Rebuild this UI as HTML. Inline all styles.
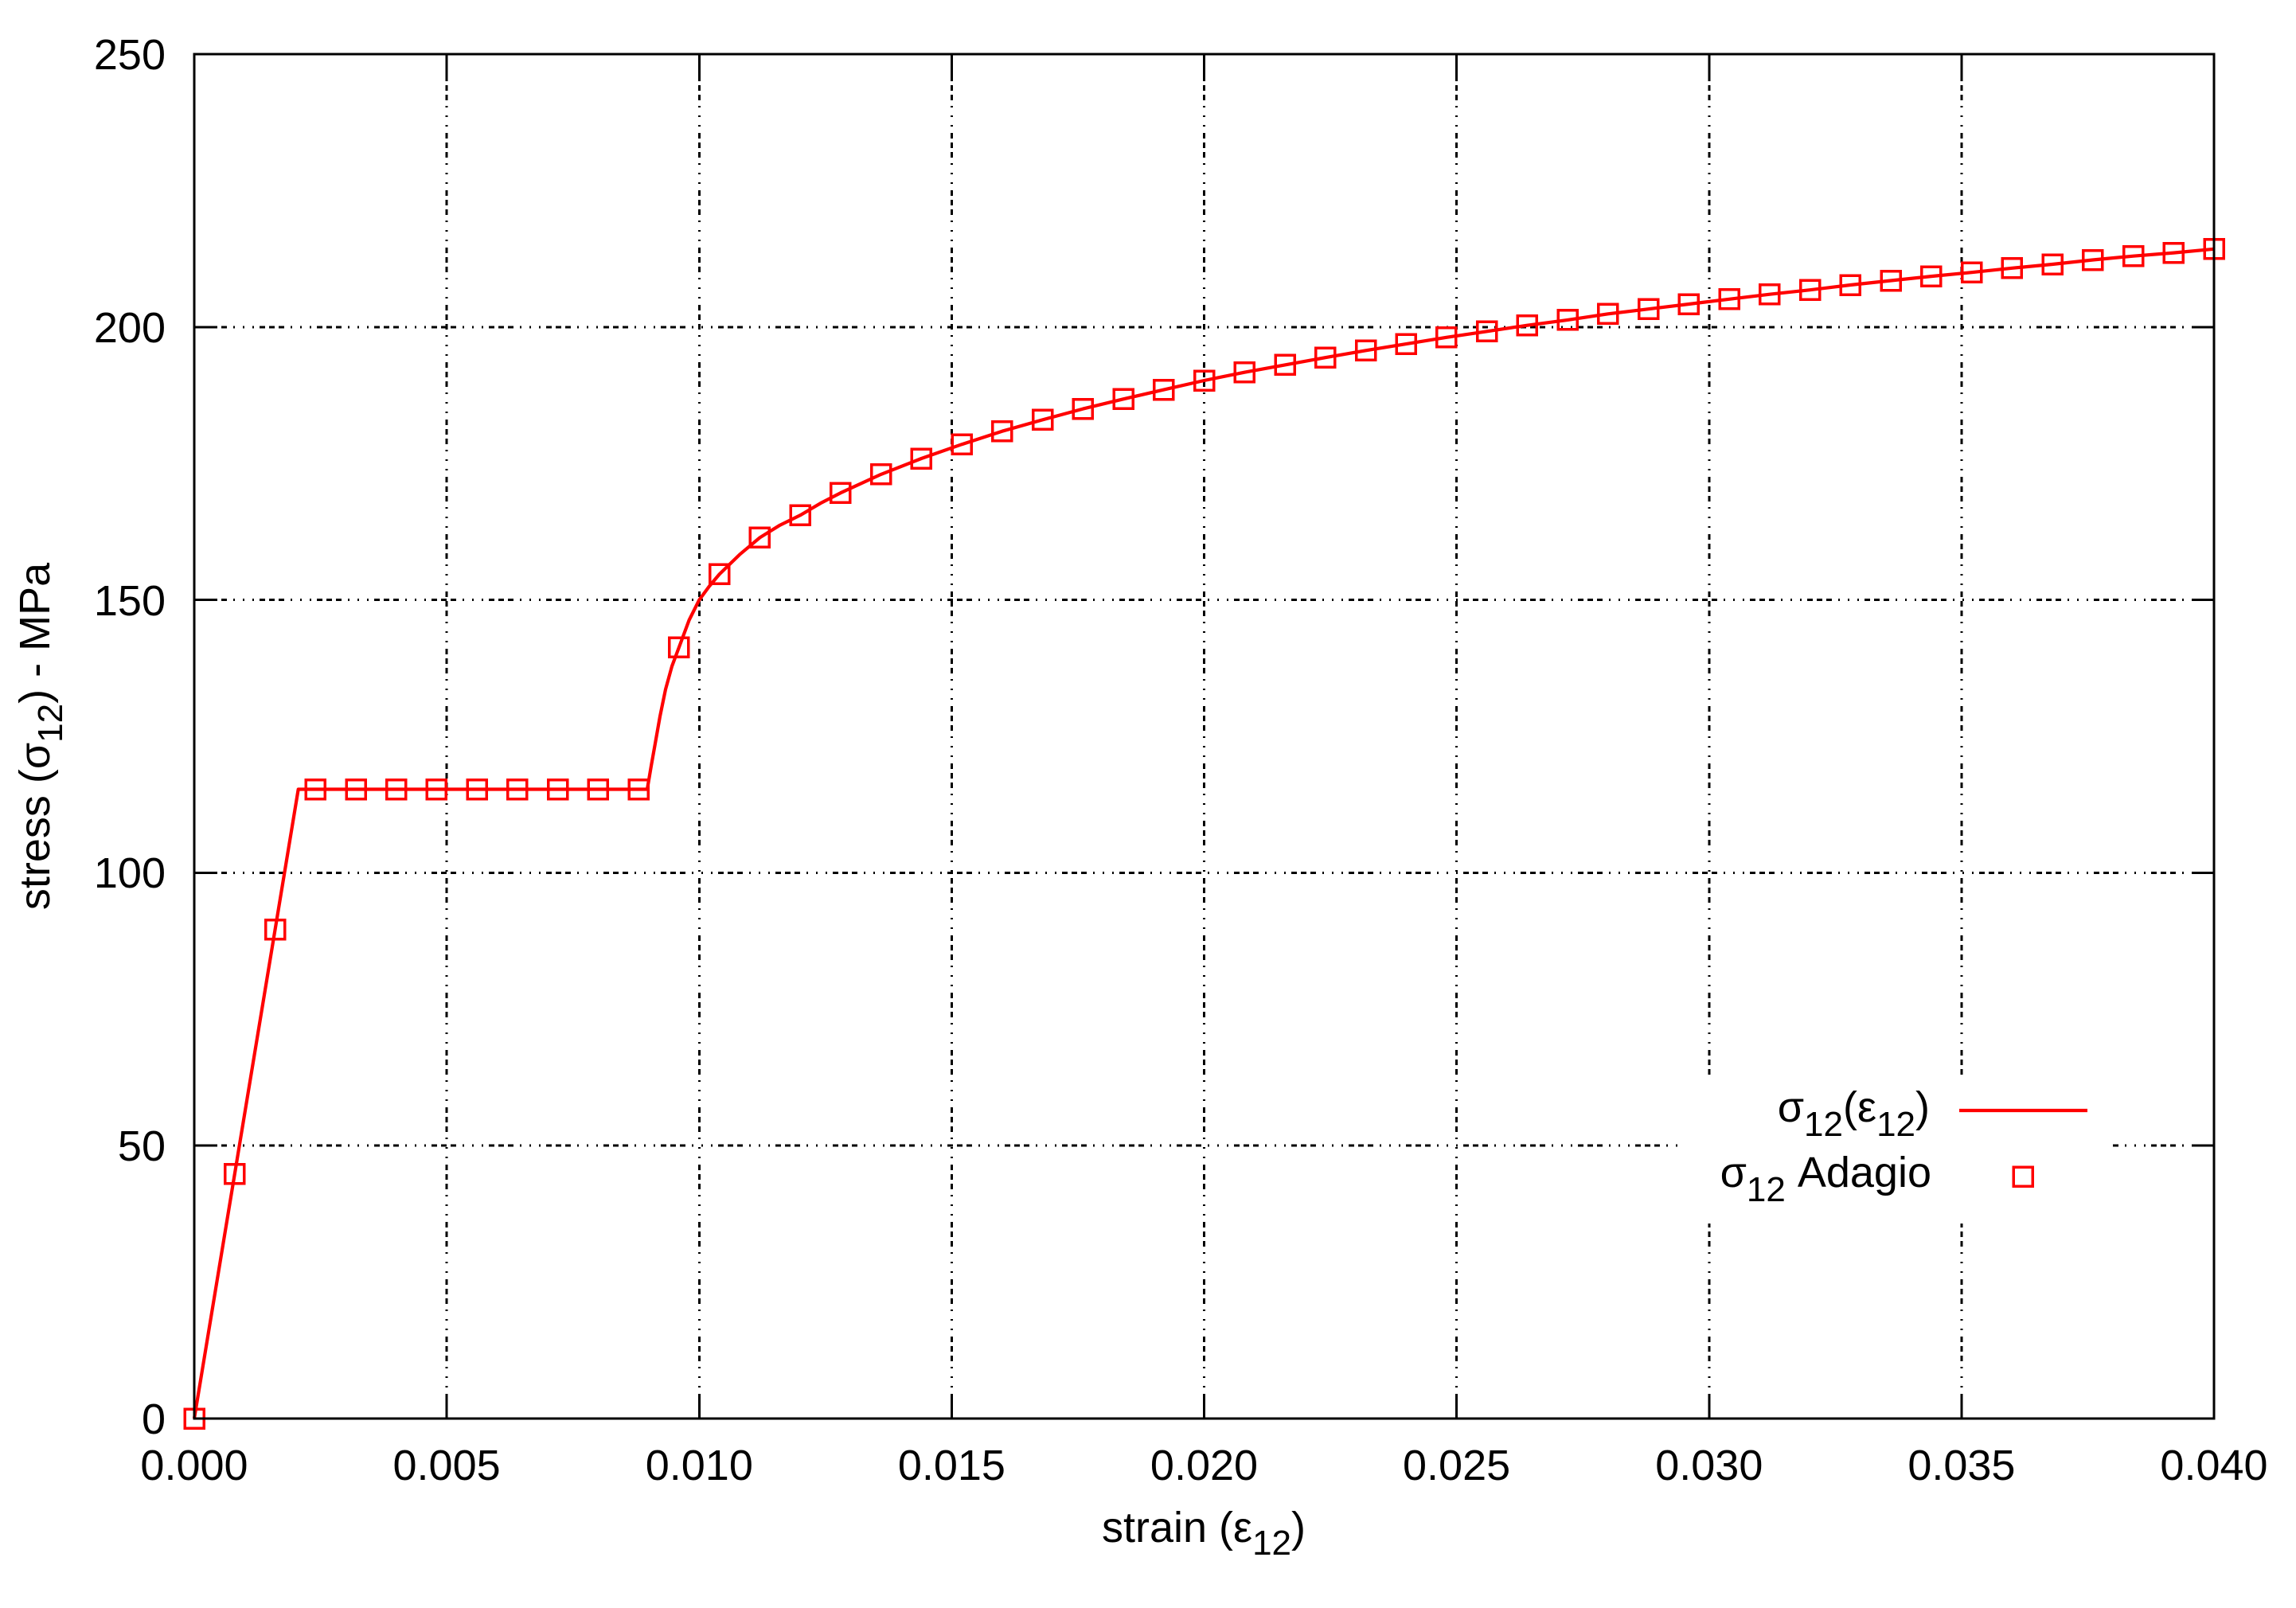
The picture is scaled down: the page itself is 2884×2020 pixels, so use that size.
<!DOCTYPE html>
<html>
<head>
<meta charset="utf-8">
<style>
  html, body { margin: 0; padding: 0; background: #ffffff; }
  svg { display: block; }
  text { font-family: "Liberation Sans", "DejaVu Sans", sans-serif; fill: #000; }
</style>
</head>
<body>
<svg width="2884" height="2020" viewBox="0 0 2884 2020" xmlns="http://www.w3.org/2000/svg">
  <rect x="0" y="0" width="2884" height="2020" fill="#ffffff"/>

  <g stroke="#000" stroke-width="3" fill="none" stroke-dasharray="7 5 7 5 7 8 2 10 2 10 2 7" shape-rendering="crispEdges">
    <line x1="244" y1="1439.2" x2="2781" y2="1439.2" stroke-dashoffset="-10"/>
    <line x1="244" y1="1096.4" x2="2781" y2="1096.4" stroke-dashoffset="-10"/>
    <line x1="244" y1="753.6" x2="2781" y2="753.6" stroke-dashoffset="-10"/>
    <line x1="244" y1="410.8" x2="2781" y2="410.8" stroke-dashoffset="-10"/>
    <line x1="561.1" y1="1782" x2="561.1" y2="68"/>
    <line x1="878.3" y1="1782" x2="878.3" y2="68"/>
    <line x1="1195.4" y1="1782" x2="1195.4" y2="68"/>
    <line x1="1512.5" y1="1782" x2="1512.5" y2="68"/>
    <line x1="1829.6" y1="1782" x2="1829.6" y2="68"/>
    <line x1="2146.8" y1="1782" x2="2146.8" y2="68"/>
    <line x1="2463.9" y1="1782" x2="2463.9" y2="68"/>
  </g>

  <rect x="2115" y="1352" width="538" height="185" fill="#ffffff"/>

  <g stroke="#000" stroke-width="3" shape-rendering="crispEdges">
    <line x1="244" y1="1439.2" x2="272" y2="1439.2"/>
    <line x1="244" y1="1096.4" x2="272" y2="1096.4"/>
    <line x1="244" y1="753.6" x2="272" y2="753.6"/>
    <line x1="244" y1="410.8" x2="272" y2="410.8"/>
    <line x1="2781" y1="1439.2" x2="2753" y2="1439.2"/>
    <line x1="2781" y1="1096.4" x2="2753" y2="1096.4"/>
    <line x1="2781" y1="753.6" x2="2753" y2="753.6"/>
    <line x1="2781" y1="410.8" x2="2753" y2="410.8"/>
    <line x1="561.1" y1="1782" x2="561.1" y2="1755"/>
    <line x1="878.3" y1="1782" x2="878.3" y2="1755"/>
    <line x1="1195.4" y1="1782" x2="1195.4" y2="1755"/>
    <line x1="1512.5" y1="1782" x2="1512.5" y2="1755"/>
    <line x1="1829.6" y1="1782" x2="1829.6" y2="1755"/>
    <line x1="2146.8" y1="1782" x2="2146.8" y2="1755"/>
    <line x1="2463.9" y1="1782" x2="2463.9" y2="1755"/>
    <line x1="561.1" y1="68" x2="561.1" y2="95"/>
    <line x1="878.3" y1="68" x2="878.3" y2="95"/>
    <line x1="1195.4" y1="68" x2="1195.4" y2="95"/>
    <line x1="1512.5" y1="68" x2="1512.5" y2="95"/>
    <line x1="1829.6" y1="68" x2="1829.6" y2="95"/>
    <line x1="2146.8" y1="68" x2="2146.8" y2="95"/>
    <line x1="2463.9" y1="68" x2="2463.9" y2="95"/>
  </g>

  <path fill="none" stroke="#ff0000" stroke-width="4.2" stroke-linejoin="round"
    d="M244,1782 L374.7,991.5 L813,991.5 L818,962 L823,934 L829,900 L836,866 L844,837 L852.9,813.2 L865.6,779 L878.3,753.6 L890.9,736.5 L903.6,721.4 L929,696.7 L954.4,675.4 L979.7,659.7 L1005.1,647.3 L1030.5,632.3 L1055.8,619.2 L1106.6,595.9 L1157.3,576 L1208.1,558.2 L1258.8,541.7 L1309.5,527.4 L1360.3,513.6 L1411,501.3 L1461.8,489.6 L1512.5,478 L1563.2,467.7 L1614,458.4 L1664.7,449.2 L1715.5,440.3 L1766.2,432.1 L1816.9,423.8 L1867.7,416.3 L1918.4,408.7 L1969.2,401.9 L2019.9,394.3 L2070.6,388.2 L2121.4,382 L2172.1,375.8 L2222.9,369.7 L2273.6,364.2 L2324.3,358 L2375.1,352.5 L2425.8,347.1 L2476.6,342.2 L2527.3,336.8 L2578,332 L2628.8,326.5 L2679.5,321.7 L2730.3,317.6 L2781,312.8"/>

  <g fill="none" stroke="#ff0000" stroke-width="3.5" shape-rendering="crispEdges">
    <rect x="232" y="1770" width="24" height="24"/>
    <rect x="282.7" y="1462.9" width="24" height="24"/>
    <rect x="333.5" y="1155.7" width="24" height="24"/>
    <rect x="384.2" y="979.5" width="24" height="24"/>
    <rect x="435" y="979.5" width="24" height="24"/>
    <rect x="485.7" y="979.5" width="24" height="24"/>
    <rect x="536.4" y="979.5" width="24" height="24"/>
    <rect x="587.2" y="979.5" width="24" height="24"/>
    <rect x="637.9" y="979.5" width="24" height="24"/>
    <rect x="688.7" y="979.5" width="24" height="24"/>
    <rect x="739.4" y="979.5" width="24" height="24"/>
    <rect x="790.1" y="979.5" width="24" height="24"/>
    <rect x="840.9" y="801.2" width="24" height="24"/>
    <rect x="891.6" y="709.4" width="24" height="24"/>
    <rect x="942.4" y="663.4" width="24" height="24"/>
    <rect x="993.1" y="635.3" width="24" height="24"/>
    <rect x="1043.8" y="607.2" width="24" height="24"/>
    <rect x="1094.6" y="583.9" width="24" height="24"/>
    <rect x="1145.3" y="564" width="24" height="24"/>
    <rect x="1196.1" y="546.2" width="24" height="24"/>
    <rect x="1246.8" y="529.7" width="24" height="24"/>
    <rect x="1297.5" y="515.4" width="24" height="24"/>
    <rect x="1348.3" y="501.6" width="24" height="24"/>
    <rect x="1399" y="489.3" width="24" height="24"/>
    <rect x="1449.8" y="477.6" width="24" height="24"/>
    <rect x="1500.5" y="466" width="24" height="24"/>
    <rect x="1551.2" y="455.7" width="24" height="24"/>
    <rect x="1602" y="446.4" width="24" height="24"/>
    <rect x="1652.7" y="437.2" width="24" height="24"/>
    <rect x="1703.5" y="428.3" width="24" height="24"/>
    <rect x="1754.2" y="420.1" width="24" height="24"/>
    <rect x="1804.9" y="411.8" width="24" height="24"/>
    <rect x="1855.7" y="404.3" width="24" height="24"/>
    <rect x="1906.4" y="396.7" width="24" height="24"/>
    <rect x="1957.2" y="389.9" width="24" height="24"/>
    <rect x="2007.9" y="382.3" width="24" height="24"/>
    <rect x="2058.6" y="376.2" width="24" height="24"/>
    <rect x="2109.4" y="370" width="24" height="24"/>
    <rect x="2160.1" y="363.8" width="24" height="24"/>
    <rect x="2210.9" y="357.7" width="24" height="24"/>
    <rect x="2261.6" y="352.2" width="24" height="24"/>
    <rect x="2312.3" y="346" width="24" height="24"/>
    <rect x="2363.1" y="340.5" width="24" height="24"/>
    <rect x="2413.8" y="335.1" width="24" height="24"/>
    <rect x="2464.6" y="330.2" width="24" height="24"/>
    <rect x="2515.3" y="324.8" width="24" height="24"/>
    <rect x="2566" y="320" width="24" height="24"/>
    <rect x="2616.8" y="314.5" width="24" height="24"/>
    <rect x="2667.5" y="309.7" width="24" height="24"/>
    <rect x="2718.3" y="305.6" width="24" height="24"/>
    <rect x="2769" y="300.8" width="24" height="24"/>
  </g>

  <rect x="244" y="68" width="2537" height="1714" fill="none" stroke="#000" stroke-width="3" shape-rendering="crispEdges"/>

  <g font-size="54" text-anchor="end">
    <text x="208" y="1801">0</text>
    <text x="208" y="1458">50</text>
    <text x="208" y="1115">100</text>
    <text x="208" y="773">150</text>
    <text x="208" y="430">200</text>
    <text x="208" y="87">250</text>
  </g>

  <g font-size="54" text-anchor="middle">
    <text x="244" y="1859">0.000</text>
    <text x="561.1" y="1859">0.005</text>
    <text x="878.3" y="1859">0.010</text>
    <text x="1195.4" y="1859">0.015</text>
    <text x="1512.5" y="1859">0.020</text>
    <text x="1829.6" y="1859">0.025</text>
    <text x="2146.8" y="1859">0.030</text>
    <text x="2463.9" y="1859">0.035</text>
    <text x="2781" y="1859">0.040</text>
  </g>

  <text x="1512" y="1937" font-size="54" text-anchor="middle">strain (ε<tspan font-size="44" dy="16">12</tspan><tspan dy="-16">)</tspan></text>
  <text transform="translate(62,925) rotate(-90)" font-size="54" text-anchor="middle">stress (σ<tspan font-size="44" dy="16">12</tspan><tspan dy="-16">) - MPa</tspan></text>

  <g font-size="54" text-anchor="end">
    <text x="2424" y="1409">σ<tspan font-size="44" dy="18">12</tspan><tspan dy="-18">(ε</tspan><tspan font-size="44" dy="18">12</tspan><tspan dy="-18">)</tspan></text>
    <text x="2426" y="1491">σ<tspan font-size="44" dy="18">12</tspan><tspan dy="-18"> Adagio</tspan></text>
  </g>
  <line x1="2461" y1="1395" x2="2622" y2="1395" stroke="#ff0000" stroke-width="4.2"/>
  <rect x="2529" y="1466" width="24" height="24" fill="none" stroke="#ff0000" stroke-width="3.5" shape-rendering="crispEdges"/>
</svg>
</body>
</html>
